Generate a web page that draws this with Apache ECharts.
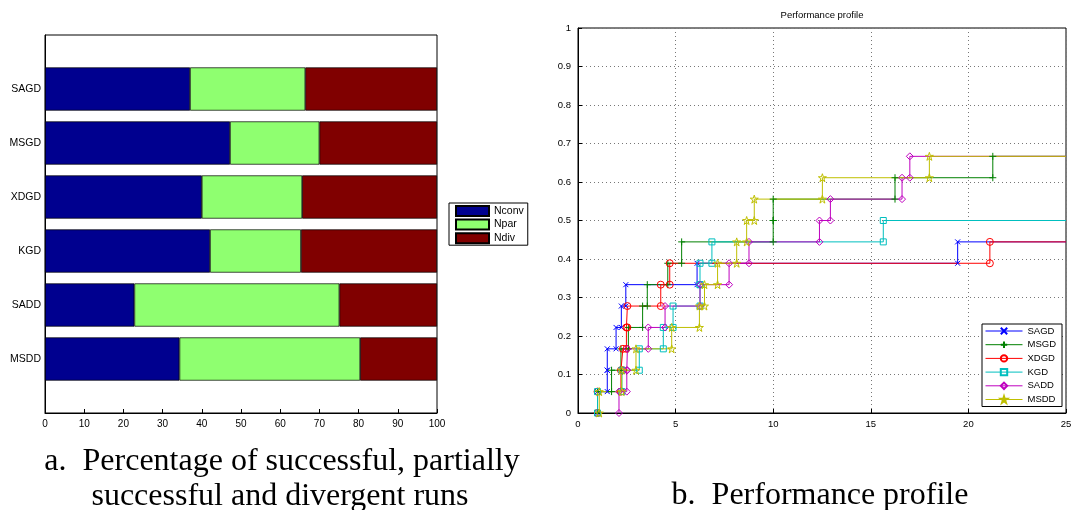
<!DOCTYPE html>
<html><head><meta charset="utf-8">
<script src="https://cdn.jsdelivr.net/npm/echarts@6/dist/echarts.min.js"></script>
<style>html,body{margin:0;padding:0;background:#fff}#c{width:1077px;height:510px}</style>
</head><body><div id="c"></div>
<script>
// ---- Left panel: percentage of runs ----
const methods = ['SAGD', 'MSGD', 'XDGD', 'KGD', 'SADD', 'MSDD'];
const nconv = [37.0, 47.2, 40.0, 42.1, 22.8, 34.3];
const npar  = [29.4, 22.8, 25.6, 23.2, 52.3, 46.1];
const ndiv  = [33.6, 30.0, 34.4, 34.7, 24.9, 19.6];
const barLegend = ['Nconv', 'Npar', 'Ndiv'];

// ---- Right panel: performance profile (tau where each curve steps up by 1/18) ----
const nProblems = 18;
const tauMax = 25;
const jumpsSAGD = [1.0, 1.5, 1.5, 1.95, 2.22, 2.45, 6.1, 19.45];
const jumpsMSGD = [1.0, 1.72, 2.2, 2.58, 3.31, 3.55, 4.6, 5.31, 10.0, 10.0, 16.24, 21.25];
const jumpsXDGD = [1.0, 2.2, 2.3, 2.48, 2.53, 4.24, 4.7, 21.1];
const jumpsKGD  = [1.0, 2.25, 3.14, 4.37, 4.87, 6.25, 6.25, 6.86, 15.64];
const jumpsSADD = [2.1, 2.5, 2.53, 3.6, 4.46, 6.25, 7.74, 8.76, 12.37, 12.93, 16.6, 17.0];
const jumpsMSDD = [1.09, 2.24, 2.97, 4.8, 6.22, 6.48, 7.15, 8.13, 8.64, 9.03, 12.52, 18.0];

const SANS = '"Liberation Sans", Arial, Helvetica, sans-serif';
const SERIF = '"Liberation Serif", "Times New Roman", serif';

const yCats = [''].concat(methods.slice().reverse(), ['']);
const barColors = ['#00008F', '#8FFF70', '#800000'];
const barSeries = [nconv, npar, ndiv].map((vals, i) => ({
  type: 'bar', name: barLegend[i], stack: 'total', xAxisIndex: 0, yAxisIndex: 0,
  barWidth: '80%',
  data: [null].concat(vals.slice().reverse(), [null]),
  itemStyle: { color: barColors[i], borderColor: '#000', borderWidth: 0.7 },
  emphasis: { disabled: true }
}));

function profilePoints(jumps) {
  const pts = [];
  jumps.forEach((t, i) => {
    pts.push([t, i / nProblems]);
    pts.push([t, (i + 1) / nProblems]);
  });
  pts.push({ value: [tauMax, jumps.length / nProblems], symbol: 'none' });
  return pts;
}

const STAR = 'path://M1,0L1.2245,0.691L1.951,0.691L1.3633,1.118L1.5878,1.809L1,1.382L0.4122,1.809L0.6367,1.118L0.049,0.691L0.7755,0.691Z';
const profiles = [
  ['SAGD', jumpsSAGD, '#0000FF', 'path://M0,0L10,10M10,0L0,10', 5],
  ['MSGD', jumpsMSGD, '#008000', 'path://M5,0L5,10M0,5L10,5', 7],
  ['XDGD', jumpsXDGD, '#FF0000', 'circle', 7],
  ['KGD',  jumpsKGD,  '#00BFBF', 'rect', 6],
  ['SADD', jumpsSADD, '#BF00BF', 'diamond', 7],
  ['MSDD', jumpsMSDD, '#BFBF00', STAR, 8]
];
const lineSeries = profiles.map(([name, jumps, color, symbol, size]) => ({
  type: 'line', name, xAxisIndex: 1, yAxisIndex: 1,
  data: profilePoints(jumps),
  symbol, symbolSize: size, showAllSymbol: true,
  lineStyle: { color, width: 1 },
  itemStyle: { color: 'rgba(255,255,255,0)', borderColor: color, borderWidth: 1 },
  emphasis: { disabled: true }
}));

const axisCommon = {
  axisLine: { show: true, onZero: false, lineStyle: { color: '#000', width: 1 } },
  axisTick: { show: true, inside: true, length: 4, lineStyle: { color: '#000' } },
  axisLabel: { color: '#000', fontFamily: SANS }
};
const dotted = { show: true, lineStyle: { type: [1, 3], color: '#777', width: 1 } };

const chart = echarts.init(document.getElementById('c'), null, { renderer: 'canvas' });
chart.setOption({
  animation: false,
  backgroundColor: '#fff',
  grid: [
    { left: 45, top: 35, width: 392, height: 378, show: true, borderColor: '#000', borderWidth: 1 },
    { left: 578, top: 28, width: 488, height: 385, show: true, borderColor: '#000', borderWidth: 1 }
  ],
  xAxis: [
    Object.assign({}, axisCommon, { type: 'value', gridIndex: 0, min: 0, max: 100, interval: 10,
      splitLine: { show: false },
      axisLabel: { color: '#000', fontFamily: SANS, fontSize: 10, margin: 6 } }),
    Object.assign({}, axisCommon, { type: 'value', gridIndex: 1, min: 0, max: tauMax, interval: 5,
      splitLine: dotted,
      axisLabel: { color: '#000', fontFamily: SANS, fontSize: 9.5, margin: 6 } })
  ],
  yAxis: [
    { type: 'category', gridIndex: 0, data: yCats, boundaryGap: false,
      axisLine: { show: true, lineStyle: { color: '#000' } }, axisTick: { show: false },
      axisLabel: { color: '#000', fontFamily: SANS, fontSize: 10.5, margin: 4, interval: 0 } },
    Object.assign({}, axisCommon, { type: 'value', gridIndex: 1, min: 0, max: 1, interval: 0.1,
      splitLine: dotted,
      axisLabel: { color: '#000', fontFamily: SANS, fontSize: 9.5, margin: 7 } })
  ],
  legend: [
    { data: barLegend, orient: 'vertical', left: 449, top: 203, icon: 'rect',
      itemWidth: 33, itemHeight: 10, itemGap: 1.6, padding: [2, 4, 1, 6],
      borderColor: '#000', borderWidth: 1, backgroundColor: '#fff', selectedMode: false,
      textStyle: { color: '#000', fontFamily: SANS, fontSize: 10.5, lineHeight: 10 } },
    { data: methods, orient: 'vertical', left: 982, top: 324,
      itemWidth: 37, itemHeight: 8, itemGap: 3.7, padding: [2, 6, 2, 3],
      lineStyle: { width: 1 },
      borderColor: '#000', borderWidth: 1, backgroundColor: '#fff', selectedMode: false,
      textStyle: { color: '#000', fontFamily: SANS, fontSize: 9.5, lineHeight: 8 } }
  ],
  graphic: [
    { type: 'text', style: { text: 'Performance profile', x: 822, y: 15, textAlign: 'center', align: 'center',
      textVerticalAlign: 'middle', verticalAlign: 'middle', font: '9.5px ' + SANS, fill: '#000' } },
    { type: 'text', style: { text: 'a.  Percentage of successful, partially', x: 282, y: 462, textAlign: 'center', align: 'center',
      textVerticalAlign: 'middle', verticalAlign: 'middle', font: '32px ' + SERIF, fill: '#000' } },
    { type: 'text', style: { text: 'successful and divergent runs', x: 280, y: 497, textAlign: 'center', align: 'center',
      textVerticalAlign: 'middle', verticalAlign: 'middle', font: '32px ' + SERIF, fill: '#000' } },
    { type: 'text', style: { text: 'b.  Performance profile', x: 820, y: 496, textAlign: 'center', align: 'center',
      textVerticalAlign: 'middle', verticalAlign: 'middle', font: '32px ' + SERIF, fill: '#000' } }
  ],
  series: barSeries.concat(lineSeries)
});
</script>
</body></html>
